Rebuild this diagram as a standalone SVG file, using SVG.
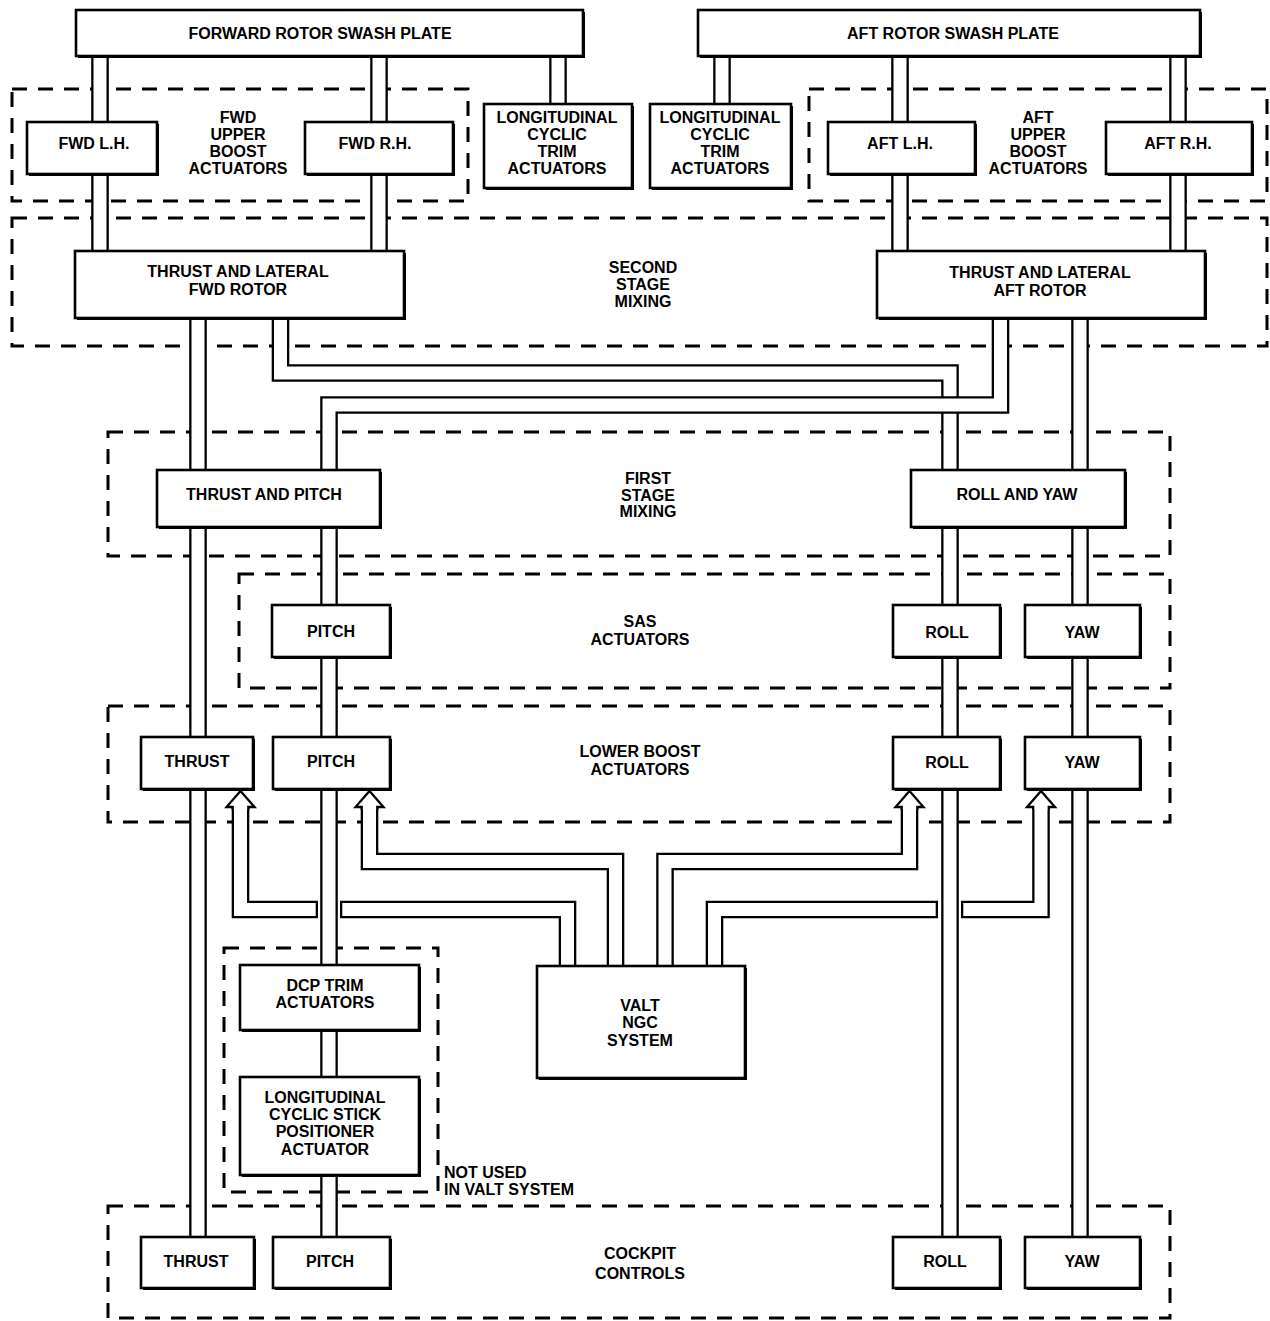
<svg xmlns="http://www.w3.org/2000/svg" xmlns:xlink="http://www.w3.org/1999/xlink" width="1270" height="1321" viewBox="0 0 1270 1321">
  <style>
    .dash { fill: none; stroke: #000; stroke-width: 3; stroke-dasharray: 15 11; }
    .sh { fill: #000; }
    .bx { fill: #fff; stroke: #000; stroke-width: 2.6; }
    .t { font-family: "Liberation Sans", Arial, sans-serif; font-weight: bold; font-size: 16px; text-anchor: middle; fill: #000; }
    .ts { font-family: "Liberation Sans", Arial, sans-serif; font-weight: bold; font-size: 16px; text-anchor: start; fill: #000; }
    .o { fill: none; stroke: #000; stroke-width: 17.6; }
    .i { fill: none; stroke: #fff; stroke-width: 13; }
    .arw { fill: #fff; stroke: #000; stroke-width: 2.3; stroke-linejoin: miter; }
  </style>
  <defs>
    <!-- push-rod channel centre lines (drawn as double lines: wide black, narrower white) -->
    <path id="p-fwdlh" d="M100,56 V122 M100,174 V251"/>
    <path id="p-fwdrh" d="M379,56 V122 M379,174 V251"/>
    <path id="p-lctf" d="M558,56 V104"/>
    <path id="p-lcta" d="M722,56 V104"/>
    <path id="p-aftlh" d="M900,56 V122 M900,174 V251"/>
    <path id="p-aftrh" d="M1178,56 V122 M1178,174 V251"/>
    <path id="p-thrust" d="M198,318 V470 M198,527 V737 M198,789 V1237"/>
    <path id="p-chA" d="M280.5,318 V373 H950 V470"/>
    <path id="p-chB" d="M1000.5,318 V405 H329 V470"/>
    <path id="p-yaw" d="M1080,318 V470 M1080,527 V605 M1080,657 V737 M1080,789 V1237"/>
    <path id="p-pitch" d="M329,527 V605 M329,657 V737 M329,789 V965 M329,1030 V1077 M329,1175 V1237"/>
    <path id="p-roll" d="M950,527 V605 M950,657 V737 M950,789 V1237"/>
    <path id="p-vP" d="M615.5,966 V861.5 H369.5 V807"/>
    <path id="p-vR" d="M665,966 V861.5 H909.5 V807"/>
  </defs>

  <rect x="0" y="0" width="1270" height="1321" fill="#fff"/>

  <!-- dashed grouping boundaries -->
  <g id="regions">
    <g id="r-fwd-upper-boost">
      <rect class="dash" x="12" y="89" width="456" height="112"/>
      <text class="t" x="238" y="123">FWD</text>
      <text class="t" x="238" y="140">UPPER</text>
      <text class="t" x="238" y="157">BOOST</text>
      <text class="t" x="238" y="174">ACTUATORS</text>
    </g>
    <g id="r-aft-upper-boost">
      <rect class="dash" x="809" y="89" width="458" height="112"/>
      <text class="t" x="1038" y="123">AFT</text>
      <text class="t" x="1038" y="140">UPPER</text>
      <text class="t" x="1038" y="157">BOOST</text>
      <text class="t" x="1038" y="174">ACTUATORS</text>
    </g>
    <g id="r-second-stage">
      <rect class="dash" x="12" y="218" width="1255" height="128"/>
      <text class="t" x="643" y="273">SECOND</text>
      <text class="t" x="643" y="290">STAGE</text>
      <text class="t" x="643" y="307">MIXING</text>
    </g>
    <g id="r-first-stage">
      <rect class="dash" x="108" y="432" width="1062" height="124"/>
      <text class="t" x="648" y="484">FIRST</text>
      <text class="t" x="648" y="501">STAGE</text>
      <text class="t" x="648" y="517">MIXING</text>
    </g>
    <g id="r-sas">
      <rect class="dash" x="239" y="574" width="931" height="114"/>
      <text class="t" x="640" y="627">SAS</text>
      <text class="t" x="640" y="645">ACTUATORS</text>
    </g>
    <g id="r-lower-boost">
      <rect class="dash" x="108" y="706" width="1062" height="116"/>
      <text class="t" x="640" y="757">LOWER BOOST</text>
      <text class="t" x="640" y="775">ACTUATORS</text>
    </g>
    <g id="r-not-used">
      <rect class="dash" x="224" y="948" width="214" height="244"/>
      <text class="ts" x="444" y="1178">NOT USED</text>
      <text class="ts" x="444" y="1195">IN VALT SYSTEM</text>
    </g>
    <g id="r-cockpit">
      <rect class="dash" x="108" y="1206" width="1062" height="112"/>
      <text class="t" x="640" y="1259">COCKPIT</text>
      <text class="t" x="640" y="1279">CONTROLS</text>
    </g>
  </g>

  <!-- control linkages -->
  <g id="connectors">
    <use xlink:href="#p-fwdlh" class="o"/><use xlink:href="#p-fwdlh" class="i"/>
    <use xlink:href="#p-fwdrh" class="o"/><use xlink:href="#p-fwdrh" class="i"/>
    <use xlink:href="#p-lctf" class="o"/><use xlink:href="#p-lctf" class="i"/>
    <use xlink:href="#p-lcta" class="o"/><use xlink:href="#p-lcta" class="i"/>
    <use xlink:href="#p-aftlh" class="o"/><use xlink:href="#p-aftlh" class="i"/>
    <use xlink:href="#p-aftrh" class="o"/><use xlink:href="#p-aftrh" class="i"/>
    <use xlink:href="#p-thrust" class="o"/><use xlink:href="#p-thrust" class="i"/>
    <use xlink:href="#p-yaw" class="o"/><use xlink:href="#p-yaw" class="i"/>
    <!-- fwd rotor to roll/yaw mixer, passes under the aft rotor run -->
    <use xlink:href="#p-chA" class="o"/><use xlink:href="#p-chA" class="i"/>
    <use xlink:href="#p-chB" class="o"/><use xlink:href="#p-chB" class="i"/>

    <!-- VALT NGC outputs to the lower boost actuators -->
    <use xlink:href="#p-vP" class="o"/><use xlink:href="#p-vP" class="i"/>
    <use xlink:href="#p-vR" class="o"/><use xlink:href="#p-vR" class="i"/>
    <!-- thrust output, broken where the pitch rod passes -->
    <path class="o" d="M240.5,807 V909.5 H318"/>
    <path class="i" d="M240.5,807 V909.5 H315.7"/>
    <path class="o" d="M340,909.5 H567.5 V966"/>
    <path class="i" d="M342.3,909.5 H567.5 V966"/>
    <!-- yaw output, broken where the roll rod passes -->
    <path class="o" d="M714.5,966 V909.5 H938"/>
    <path class="i" d="M714.5,966 V909.5 H935.7"/>
    <path class="o" d="M961,909.5 H1041 V807"/>
    <path class="i" d="M963.3,909.5 H1041 V807"/>
    <!-- open arrowheads -->
    <path class="arw" d="M232.7,810 V807 H226.5 L240.5,791 L254.5,807 H248.3 V810"/>
    <path class="arw" d="M361.7,810 V807 H355.5 L369.5,791 L383.5,807 H377.3 V810"/>
    <path class="arw" d="M901.7,810 V807 H895.5 L909.5,791 L923.5,807 H917.3 V810"/>
    <path class="arw" d="M1033.2,810 V807 H1027 L1041,791 L1055,807 H1048.8 V810"/>

    <use xlink:href="#p-pitch" class="o"/><use xlink:href="#p-pitch" class="i"/>
    <use xlink:href="#p-roll" class="o"/><use xlink:href="#p-roll" class="i"/>
  </g>

  <!-- components -->
  <g id="nodes">
    <g id="n-fwd-swash">
      <rect class="sh" x="78" y="12" width="507" height="46"/>
      <rect class="bx" x="76" y="10" width="507" height="46"/>
      <text class="t" x="320" y="39">FORWARD ROTOR SWASH PLATE</text>
    </g>
    <g id="n-aft-swash">
      <rect class="sh" x="700" y="12" width="502" height="46"/>
      <rect class="bx" x="698" y="10" width="502" height="46"/>
      <text class="t" x="953" y="39">AFT ROTOR SWASH PLATE</text>
    </g>
    <g id="n-fwd-lh">
      <rect class="sh" x="29" y="124" width="130" height="52"/>
      <rect class="bx" x="27" y="122" width="130" height="52"/>
      <text class="t" x="94" y="149">FWD L.H.</text>
    </g>
    <g id="n-fwd-rh">
      <rect class="sh" x="307" y="124" width="148" height="52"/>
      <rect class="bx" x="305" y="122" width="148" height="52"/>
      <text class="t" x="375" y="149">FWD R.H.</text>
    </g>
    <g id="n-lct-fwd">
      <rect class="sh" x="486" y="106" width="148" height="84"/>
      <rect class="bx" x="484" y="104" width="148" height="84"/>
      <text class="t" x="557" y="123">LONGITUDINAL</text>
      <text class="t" x="557" y="140">CYCLIC</text>
      <text class="t" x="557" y="157">TRIM</text>
      <text class="t" x="557" y="174">ACTUATORS</text>
    </g>
    <g id="n-lct-aft">
      <rect class="sh" x="652" y="106" width="141" height="84"/>
      <rect class="bx" x="650" y="104" width="141" height="84"/>
      <text class="t" x="720" y="123">LONGITUDINAL</text>
      <text class="t" x="720" y="140">CYCLIC</text>
      <text class="t" x="720" y="157">TRIM</text>
      <text class="t" x="720" y="174">ACTUATORS</text>
    </g>
    <g id="n-aft-lh">
      <rect class="sh" x="830" y="124" width="147" height="52"/>
      <rect class="bx" x="828" y="122" width="147" height="52"/>
      <text class="t" x="900" y="149">AFT L.H.</text>
    </g>
    <g id="n-aft-rh">
      <rect class="sh" x="1108" y="124" width="146" height="52"/>
      <rect class="bx" x="1106" y="122" width="146" height="52"/>
      <text class="t" x="1178" y="149">AFT R.H.</text>
    </g>
    <g id="n-fwd-rotor">
      <rect class="sh" x="77" y="253" width="329" height="67"/>
      <rect class="bx" x="75" y="251" width="329" height="67"/>
      <text class="t" x="238" y="277">THRUST AND LATERAL</text>
      <text class="t" x="238" y="295">FWD ROTOR</text>
    </g>
    <g id="n-aft-rotor">
      <rect class="sh" x="879" y="253" width="328" height="67"/>
      <rect class="bx" x="877" y="251" width="328" height="67"/>
      <text class="t" x="1040" y="278">THRUST AND LATERAL</text>
      <text class="t" x="1040" y="296">AFT ROTOR</text>
    </g>
    <g id="n-thrust-pitch">
      <rect class="sh" x="159" y="472" width="223" height="57"/>
      <rect class="bx" x="157" y="470" width="223" height="57"/>
      <text class="t" x="264" y="500">THRUST AND PITCH</text>
    </g>
    <g id="n-roll-yaw">
      <rect class="sh" x="913" y="472" width="214" height="57"/>
      <rect class="bx" x="911" y="470" width="214" height="57"/>
      <text class="t" x="1017" y="500">ROLL AND YAW</text>
    </g>
    <g id="n-sas-pitch">
      <rect class="sh" x="274" y="607" width="118" height="52"/>
      <rect class="bx" x="272" y="605" width="118" height="52"/>
      <text class="t" x="331" y="637">PITCH</text>
    </g>
    <g id="n-sas-roll">
      <rect class="sh" x="895" y="607" width="107" height="52"/>
      <rect class="bx" x="893" y="605" width="107" height="52"/>
      <text class="t" x="947" y="638">ROLL</text>
    </g>
    <g id="n-sas-yaw">
      <rect class="sh" x="1027" y="607" width="115" height="52"/>
      <rect class="bx" x="1025" y="605" width="115" height="52"/>
      <text class="t" x="1082" y="638">YAW</text>
    </g>
    <g id="n-lb-thrust">
      <rect class="sh" x="143" y="739" width="112" height="52"/>
      <rect class="bx" x="141" y="737" width="112" height="52"/>
      <text class="t" x="197" y="767">THRUST</text>
    </g>
    <g id="n-lb-pitch">
      <rect class="sh" x="275" y="739" width="117" height="52"/>
      <rect class="bx" x="273" y="737" width="117" height="52"/>
      <text class="t" x="331" y="767">PITCH</text>
    </g>
    <g id="n-lb-roll">
      <rect class="sh" x="895" y="739" width="107" height="52"/>
      <rect class="bx" x="893" y="737" width="107" height="52"/>
      <text class="t" x="947" y="768">ROLL</text>
    </g>
    <g id="n-lb-yaw">
      <rect class="sh" x="1027" y="739" width="115" height="52"/>
      <rect class="bx" x="1025" y="737" width="115" height="52"/>
      <text class="t" x="1082" y="768">YAW</text>
    </g>
    <g id="n-dcp-trim">
      <rect class="sh" x="242" y="967" width="179" height="65"/>
      <rect class="bx" x="240" y="965" width="179" height="65"/>
      <text class="t" x="325" y="991">DCP TRIM</text>
      <text class="t" x="325" y="1008">ACTUATORS</text>
    </g>
    <g id="n-lcsp">
      <rect class="sh" x="242" y="1079" width="179" height="98"/>
      <rect class="bx" x="240" y="1077" width="179" height="98"/>
      <text class="t" x="325" y="1103">LONGITUDINAL</text>
      <text class="t" x="325" y="1120">CYCLIC STICK</text>
      <text class="t" x="325" y="1137">POSITIONER</text>
      <text class="t" x="325" y="1155">ACTUATOR</text>
    </g>
    <g id="n-valt">
      <rect class="sh" x="539" y="968" width="208" height="112"/>
      <rect class="bx" x="537" y="966" width="208" height="112"/>
      <text class="t" x="640" y="1011">VALT</text>
      <text class="t" x="640" y="1028">NGC</text>
      <text class="t" x="640" y="1046">SYSTEM</text>
    </g>
    <g id="n-cp-thrust">
      <rect class="sh" x="143" y="1239" width="113" height="51"/>
      <rect class="bx" x="141" y="1237" width="113" height="51"/>
      <text class="t" x="196" y="1267">THRUST</text>
    </g>
    <g id="n-cp-pitch">
      <rect class="sh" x="275" y="1239" width="117" height="51"/>
      <rect class="bx" x="273" y="1237" width="117" height="51"/>
      <text class="t" x="330" y="1267">PITCH</text>
    </g>
    <g id="n-cp-roll">
      <rect class="sh" x="895" y="1239" width="107" height="51"/>
      <rect class="bx" x="893" y="1237" width="107" height="51"/>
      <text class="t" x="945" y="1267">ROLL</text>
    </g>
    <g id="n-cp-yaw">
      <rect class="sh" x="1027" y="1239" width="115" height="51"/>
      <rect class="bx" x="1025" y="1237" width="115" height="51"/>
      <text class="t" x="1082" y="1267">YAW</text>
    </g>
  </g>
</svg>
